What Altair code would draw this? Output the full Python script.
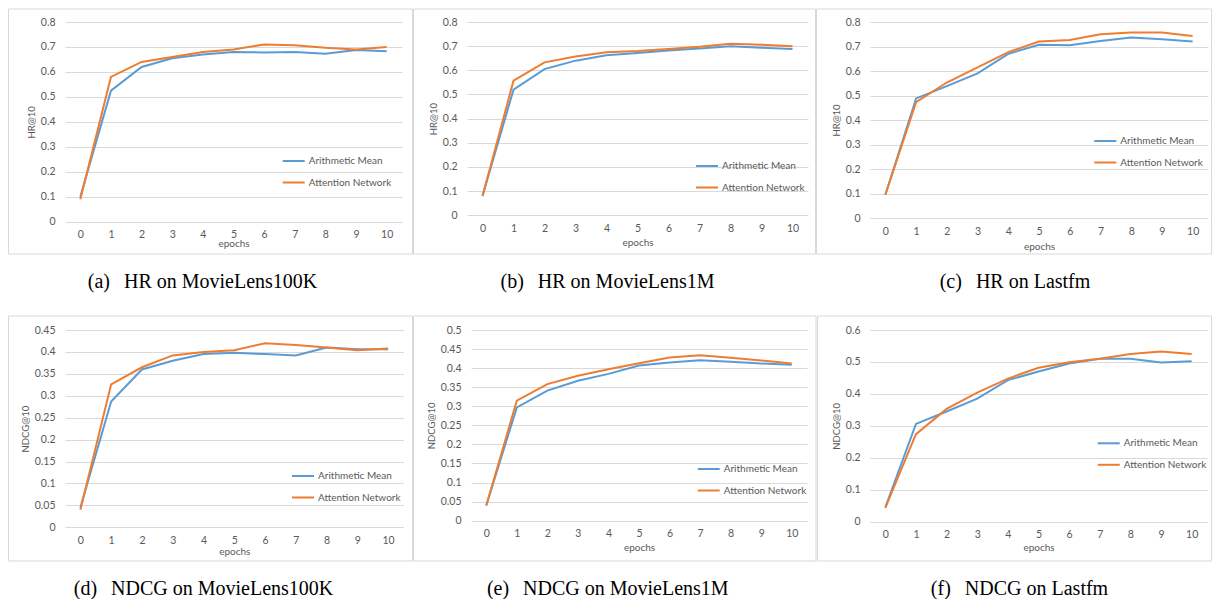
import altair as alt
import pandas as pd

epochs = list(range(11))
series_names = ["Arithmetic Mean", "Attention Network"]
series_colors = ["#5b9bd5", "#ed7d31"]

# (a) HR on MovieLens100K
hr_ml100k_mean = [0.10, 0.525, 0.62, 0.655, 0.67, 0.68, 0.678, 0.68, 0.673, 0.688, 0.683]
hr_ml100k_att = [0.09, 0.58, 0.64, 0.66, 0.68, 0.69, 0.71, 0.707, 0.697, 0.69, 0.70]
# (b) HR on MovieLens1M
hr_ml1m_mean = [0.08, 0.52, 0.605, 0.64, 0.662, 0.672, 0.682, 0.69, 0.70, 0.693, 0.688]
hr_ml1m_att = [0.08, 0.557, 0.633, 0.657, 0.675, 0.68, 0.688, 0.698, 0.71, 0.706, 0.70]
# (c) HR on Lastfm
hr_lastfm_mean = [0.095, 0.488, 0.538, 0.59, 0.67, 0.707, 0.705, 0.722, 0.737, 0.73, 0.72]
hr_lastfm_att = [0.095, 0.473, 0.553, 0.615, 0.677, 0.72, 0.727, 0.75, 0.757, 0.757, 0.743]
# (d) NDCG on MovieLens100K
ndcg_ml100k_mean = [0.045, 0.287, 0.36, 0.38, 0.395, 0.398, 0.395, 0.392, 0.41, 0.406, 0.406]
ndcg_ml100k_att = [0.04, 0.326, 0.365, 0.392, 0.40, 0.404, 0.42, 0.416, 0.41, 0.404, 0.408]
# (e) NDCG on MovieLens1M
ndcg_ml1m_mean = [0.04, 0.297, 0.341, 0.367, 0.385, 0.407, 0.415, 0.421, 0.417, 0.412, 0.409]
ndcg_ml1m_att = [0.04, 0.315, 0.358, 0.38, 0.397, 0.413, 0.428, 0.434, 0.427, 0.42, 0.412]
# (f) NDCG on Lastfm
ndcg_lastfm_mean = [0.045, 0.306, 0.345, 0.385, 0.443, 0.47, 0.495, 0.51, 0.51, 0.498, 0.502]
ndcg_lastfm_att = [0.043, 0.274, 0.353, 0.404, 0.448, 0.482, 0.499, 0.51, 0.525, 0.533, 0.525]

captions = [
    "(a)\u2002\u2009HR on MovieLens100K",
    "(b)\u2002\u2009HR on MovieLens1M",
    "(c)\u2002\u2009HR on Lastfm",
    "(d)\u2002\u2009NDCG on MovieLens100K",
    "(e)\u2002\u2009NDCG on MovieLens1M",
    "(f)\u2002\u2009NDCG on Lastfm",
]
y_titles = ["HR@10", "HR@10", "HR@10", "NDCG@10", "NDCG@10", "NDCG@10"]

ticks_hr = [0, 0.1, 0.2, 0.3, 0.4, 0.5, 0.6, 0.7, 0.8]
ticks_ndcg_100k = [0, 0.05, 0.1, 0.15, 0.2, 0.25, 0.3, 0.35, 0.4, 0.45]
ticks_ndcg_1m = [0, 0.05, 0.1, 0.15, 0.2, 0.25, 0.3, 0.35, 0.4, 0.45, 0.5]
ticks_ndcg_lastfm = [0, 0.1, 0.2, 0.3, 0.4, 0.5, 0.6]

means = [hr_ml100k_mean, hr_ml1m_mean, hr_lastfm_mean, ndcg_ml100k_mean, ndcg_ml1m_mean, ndcg_lastfm_mean]
atts = [hr_ml100k_att, hr_ml1m_att, hr_lastfm_att, ndcg_ml100k_att, ndcg_ml1m_att, ndcg_lastfm_att]
yticks = [ticks_hr, ticks_hr, ticks_hr, ticks_ndcg_100k, ticks_ndcg_1m, ticks_ndcg_lastfm]

# layout per panel (plot size, frame margins, legend position, x-title padding, caption shift)
layouts = [
    dict(W=337, H=199.7, l=56.5, r=10.5, t=13, b=32.3, lx=216.7, ly=127, xtp=-2, dx=-8),
    dict(W=341, H=193.3, l=53.5, r=7.5, t=13, b=38.7, lx=228, ly=132, xtp=3.7, dx=-7),
    dict(W=338, H=196, l=53.5, r=3.5, t=13, b=36, lx=223.3, ly=107, xtp=5, dx=1),
    dict(W=338.5, H=197.3, l=56.5, r=9, t=14, b=33.7, lx=226, ly=134, xtp=1, dx=-7),
    dict(W=336, H=190.7, l=57.5, r=9, t=14, b=40.3, lx=225.7, ly=127, xtp=3.3, dx=-7),
    dict(W=337, H=191.7, l=52.5, r=4.5, t=14, b=39.3, lx=226.7, ly=101.3, xtp=2, dx=5),
]

TXT = "#595959"
FONT = "Lato"


def panel(i):
    L = layouts[i]
    df = pd.DataFrame({
        "epoch": epochs + epochs,
        "value": means[i] + atts[i],
        "series": [series_names[0]] * len(epochs) + [series_names[1]] * len(epochs),
    })
    lines = alt.Chart(df).mark_line(strokeWidth=2).encode(
        x=alt.X(
            "epoch:O",
            title="epochs",
            scale=alt.Scale(type="point", padding=0.5),
            axis=alt.Axis(labelAngle=0, ticks=False, tickSize=0, domain=False, grid=False,
                          labelPadding=8, titlePadding=L["xtp"]),
        ),
        y=alt.Y(
            "value:Q",
            title=y_titles[i],
            scale=alt.Scale(domain=[0, yticks[i][-1]], nice=False, zero=True),
            axis=alt.Axis(values=yticks[i], format="~g", domain=False, ticks=False, tickSize=0,
                          labelPadding=10, titlePadding=4, titleFontSize=9.5, gridColor="#d9d9d9"),
        ),
        color=alt.Color(
            "series:N",
            scale=alt.Scale(domain=series_names, range=series_colors),
            legend=alt.Legend(
                title=None, orient="none", legendX=L["lx"], legendY=L["ly"],
                symbolType="stroke", symbolSize=484, symbolStrokeWidth=2,
                rowPadding=4.5, labelOffset=3, padding=0,
                labelFont=FONT, labelFontSize=10, labelColor=TXT,
            ),
        ),
    )
    box = alt.Chart(alt.Data(values=[{"k": 1}])).mark_rect(
        filled=False, stroke="#d9d9d9", strokeWidth=1
    ).encode(
        x=alt.value(-L["l"]), x2=alt.value(L["W"] + L["r"]),
        y=alt.value(-L["t"]), y2=alt.value(L["H"] + L["b"]),
    )
    return alt.layer(box, lines).properties(
        width=L["W"], height=L["H"],
        title=alt.TitleParams(
            captions[i], orient="bottom", anchor="middle", frame="bounds", offset=17,
            dx=L["dx"], font="Liberation Serif", fontSize=20, fontWeight="normal", color="black",
        ),
    )


row1 = alt.hconcat(panel(0), panel(1), panel(2), spacing=0).resolve_scale(color="independent")
row2 = alt.hconcat(panel(3), panel(4), panel(5), spacing=0).resolve_scale(color="independent")

chart = alt.vconcat(row1, row2, spacing=23).resolve_scale(color="independent").properties(
    padding=0
).configure_view(stroke=None).configure_axis(
    labelFont=FONT, titleFont=FONT, labelFontSize=10.5, titleFontSize=10,
    labelColor=TXT, titleColor=TXT, titleFontWeight="normal",
)

chart.save("out.html", embed_options={"renderer": "svg", "actions": False})
